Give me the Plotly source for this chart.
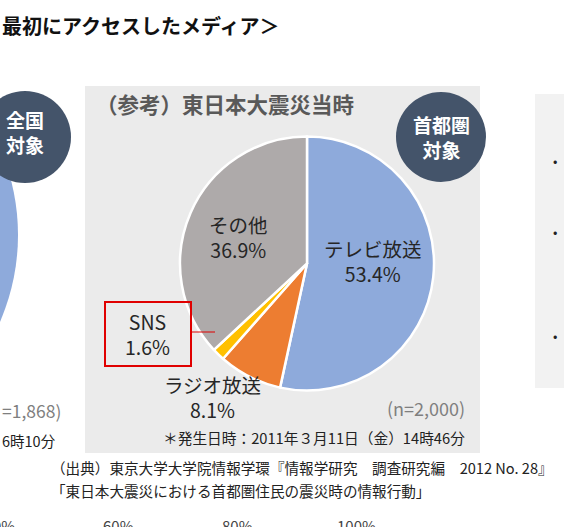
import plotly.graph_objects as go

W, H = 564, 527

# data
media = ["テレビ放送", "ラジオ放送", "SNS", "その他"]
share = [53.4, 8.1, 1.6, 36.9]
colors = ["#8eaadb", "#ed7d31", "#ffc000", "#aeaaaa"]
n_label = "(n=2,000)"
left_n_label = "=1,868)"
quake_note = "＊発生日時：2011年３月11日（金）14時46分"
left_note = "6時10分"
source_lines = ["（出典）東京大学大学院情報学環『情報学研究　調査研究編　2012 No. 28』",
                "「東日本大震災における首都圏住民の震災時の情報行動」"]
axis_ticks = ["0%", "60%", "80%", "100%"]
tick_x = [4, 118, 237, 356]

JP = "Noto Sans CJK JP"


def px(x, y):
    return x / W, 1 - y / H


def rect(x0, y0, x1, y1, **kw):
    a, b = px(x0, y1)
    c, d = px(x1, y0)
    return dict(type="rect", xref="paper", yref="paper", x0=a, y0=b, x1=c, y1=d, **kw)


def circle(cx, cy, r, **kw):
    a, b = px(cx - r, cy + r)
    c, d = px(cx + r, cy - r)
    return dict(type="circle", xref="paper", yref="paper", x0=a, y0=b, x1=c, y1=d, **kw)


def text(x, y, s, size=14, color="#222222", anchor="center", bold=False):
    xp, yp = px(x, y)
    if bold:
        s = "<b>" + s + "</b>"
    return dict(xref="paper", yref="paper", x=xp, y=yp, text=s, showarrow=False,
                xanchor=anchor, yanchor="middle",
                font=dict(family=JP, size=size, color=color))


# pie geometry (pixels)
cx, cy, r = 307, 256, 127
dx0, dy1 = px(cx - r, cy + r)
dx1, dy0 = px(cx + r, cy - r)

fig = go.Figure()
fig.add_trace(go.Pie(
    labels=media, values=share, sort=False, direction="clockwise", rotation=0,
    marker=dict(colors=colors, line=dict(color="white", width=2.5)),
    textinfo="none", hoverinfo="label+percent", showlegend=False,
    domain=dict(x=[dx0, dx1], y=[dy0, dy1]),
))

shapes = [
    rect(85, 86, 480, 453, fillcolor="#ebebeb", line_width=0, layer="below"),
    rect(535, 94, 570, 388, fillcolor="#f2f2f2", line_width=0, layer="below"),
    circle(-200, 235, 218, fillcolor="#8eaadb", line_width=0, layer="below"),
    circle(25, 137, 46, fillcolor="#44546a", line_width=0),
    circle(441, 137, 45, fillcolor="#44546a", line_width=0),
    rect(105, 302, 191, 366, line=dict(color="#e00000", width=2)),
]
lx0, ly = px(191, 332)
lx1, _ = px(215, 332)
shapes.append(dict(type="line", xref="paper", yref="paper", x0=lx0, y0=ly, x1=lx1, y1=ly,
                   line=dict(color="#e00000", width=1)))

# centre of each two-line slice label
label_pos = [(373, 261), (212, 397), (147, 334), (238, 237)]
ann = []
for name, v, (x, y) in zip(media, share, label_pos):
    ann.append(text(x, y, f"{name}<br>{v}%", size=19.5, color="#262626"))

ann += [
    text(0, 25, "最初にアクセスしたメディア＞", size=20, color="#111111", anchor="left", bold=True),
    text(94, 103, "（参考）東日本大震災当時", size=21.5, color="#595959", anchor="left", bold=True),
    text(441, 137, "首都圏<br>対象", size=19, color="white", bold=True),
    text(25, 132, "全国<br>対象", size=19, color="white", bold=True),
    text(467, 408, n_label, size=18, color="#7f7f7f", anchor="right"),
    text(0, 410, left_n_label, size=17.5, color="#7f7f7f", anchor="left"),
    text(467, 437, quake_note, size=14.7, color="#222222", anchor="right"),
    text(0, 440, left_note, size=14.5, color="#222222", anchor="left"),
    text(49, 467, source_lines[0], size=14.6, color="#222222", anchor="left"),
    text(49, 490, source_lines[1], size=14.6, color="#222222", anchor="left"),
]
for t, x in zip(axis_ticks, tick_x):
    ann.append(text(x, 525, t, size=15, color="#444444"))
for y in [160, 232, 335]:
    ann.append(text(555, y, "•", size=13, color="#222222"))

fig.update_layout(
    width=W, height=H, margin=dict(l=0, r=0, t=0, b=0),
    paper_bgcolor="white", plot_bgcolor="white",
    shapes=shapes, annotations=ann,
)
fig.write_html("out.html", config={"displayModeBar": False},
               post_script="document.body.style.margin='0';document.body.style.overflow='hidden';")
